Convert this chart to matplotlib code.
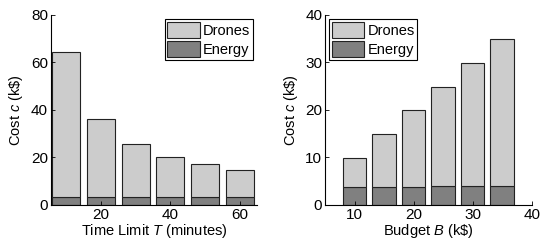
import matplotlib
matplotlib.use("Agg")
import matplotlib.pyplot as plt
import numpy as np

plt.rcParams['font.family'] = ['Liberation Sans', 'DejaVu Sans']
plt.rcParams['mathtext.fontset'] = 'custom'
plt.rcParams['mathtext.rm'] = 'Liberation Sans'
plt.rcParams['mathtext.it'] = 'Liberation Sans:italic'
plt.rcParams['font.size'] = 9.5

# Left panel: time limit T
time_limits = [10, 20, 30, 40, 50, 60]
time_total = [64.5, 36.1, 25.5, 20.3, 17.1, 14.7]
time_energy = [3.5, 3.5, 3.5, 3.5, 3.5, 3.5]
time_drones = [t - e for t, e in zip(time_total, time_energy)]

# Right panel: budget B
budgets = [10, 15, 20, 25, 30, 35]
budget_total = [9.8, 14.9, 19.9, 24.9, 29.9, 34.9]
budget_energy = [3.7, 3.8, 3.8, 3.9, 3.9, 3.9]
budget_drones = [t - e for t, e in zip(budget_total, budget_energy)]

c_drones = '#cccccc'
c_energy = '#808080'
edge = '#222222'

fig = plt.figure(figsize=(5.45, 2.4), dpi=100)
ax1 = fig.add_axes([0.093, 0.146, 0.3786, 0.7915])
ax2 = fig.add_axes([0.5963, 0.146, 0.3793, 0.7915])

def draw(ax, x, energy, drones, width, xlim, ylim, yticks, xticks, xlabel, loc):
    ax.bar(x, energy, width=width, color=c_energy, edgecolor=edge, linewidth=0.8, label='Energy')
    ax.bar(x, drones, width=width, bottom=energy, color=c_drones, edgecolor=edge,
           linewidth=0.8, label='Drones')
    ax.set_xlim(*xlim)
    ax.set_ylim(*ylim)
    ax.set_yticks(yticks)
    ax.set_xticks(xticks)
    ax.spines['top'].set_visible(False)
    ax.spines['right'].set_visible(False)
    ax.tick_params(direction='in', length=3, width=0.6, labelsize=11, pad=2)
    for s in ['left', 'bottom']:
        ax.spines[s].set_linewidth(0.8)
    ax.set_xlabel(xlabel, fontsize=10.5, labelpad=0)
    ax.set_ylabel('Cost $c$ (k\\$)', fontsize=10.5, labelpad=4)
    h, l = ax.get_legend_handles_labels()
    leg = ax.legend(h[::-1], l[::-1], loc=loc, fancybox=False, edgecolor='black',
                    framealpha=1, fontsize=10.5, handlelength=2.2, handleheight=1.3,
                    handletextpad=0.2, borderpad=0.2, labelspacing=0.2, borderaxespad=0.3)
    leg.get_frame().set_linewidth(0.8)

draw(ax1, time_limits, time_energy, time_drones, 8, (5.5, 65), (0, 80),
     [0, 20, 40, 60, 80], [20, 40, 60], 'Time Limit $T$ (minutes)', 'upper right')
draw(ax2, budgets, budget_energy, budget_drones, 4, (5, 40), (0, 40),
     [0, 10, 20, 30, 40], [10, 20, 30, 40], 'Budget $B$ (k\\$)', 'upper left')

fig.savefig('out.png', dpi=100)
